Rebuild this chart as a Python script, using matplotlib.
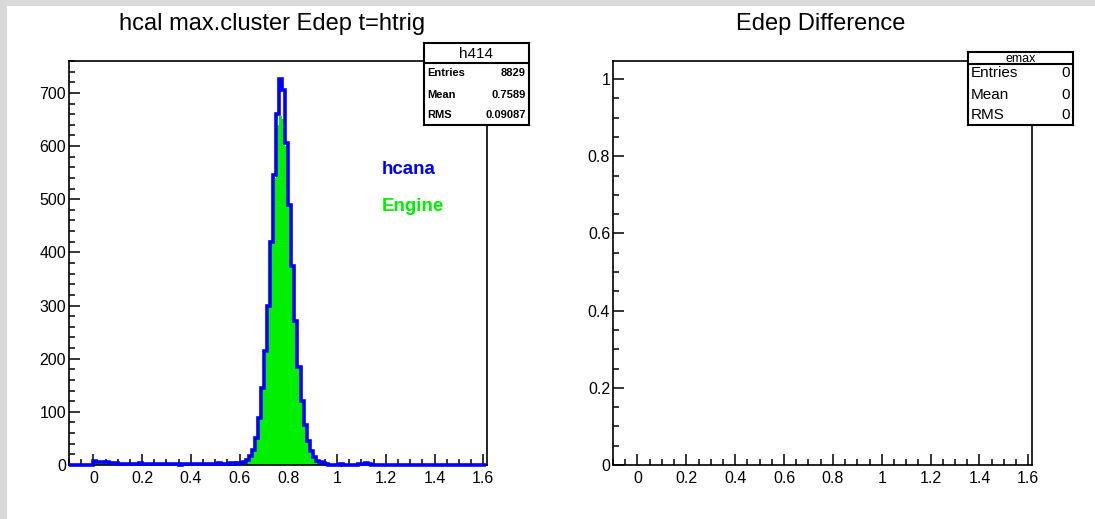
import matplotlib
matplotlib.use("Agg")
import numpy as np
import matplotlib.pyplot as plt
from matplotlib.ticker import MultipleLocator, FuncFormatter
from matplotlib.patches import Rectangle

plt.rcParams['font.family'] = ['Liberation Sans', 'DejaVu Sans']

# histogram binning
bin_start = -0.1
bin_width = 0.0125
n_bins = 137

# hcana counts per bin, 8 bins (0.1) per row
hcana_counts = [
    0, 0, 0, 0, 0, 0, 0, 0,            # -0.1 .. 0.0
    8, 5, 5, 6, 5, 4, 3, 3,            # 0.0 .. 0.1
    2, 1, 2, 1, 1, 2, 1, 3,            # 0.1 .. 0.2
    2, 1, 1, 1, 2, 1, 1, 2,            # 0.2 .. 0.3
    1, 2, 1, 1, 0, 1, 2, 1,            # 0.3 .. 0.4
    1, 1, 2, 1, 1, 2, 1, 2,            # 0.4 .. 0.5
    2, 3, 2, 1, 2, 3, 2, 3,            # 0.5 .. 0.6
    4, 6, 10, 17, 28, 50, 88, 145,     # 0.6 .. 0.7
    215, 300, 420, 545, 660, 727, 706, 605,  # 0.7 .. 0.8
    490, 375, 270, 185, 120, 75, 45, 26,     # 0.8 .. 0.9
    15, 8, 5, 3, 1, 0, 0, 0,           # 0.9 .. 1.0
    0, 1, 0, 0, 0, 0, 0, 1,            # 1.0 .. 1.1
    2, 3, 1, 0, 0, 0, 0, 0,            # 1.1 .. 1.2
    0, 0, 0, 0, 0, 0, 0, 0,            # 1.2 .. 1.3
    0, 0, 0, 0, 0, 0, 0, 0,            # 1.3 .. 1.4
    0, 0, 0, 0, 0, 0, 0, 0,            # 1.4 .. 1.5
    0, 0, 0, 0, 0, 0, 0, 0,            # 1.5 .. 1.6
    0,
]

# engine counts: same shape, lower at the peak
engine_counts = list(hcana_counts)
engine_counts[67] = 540
engine_counts[68] = 640
engine_counts[69] = 656
engine_counts[70] = 650
engine_counts[71] = 600

edges = bin_start + bin_width * np.arange(n_bins + 1)

stats_left = [("Entries", "8829"), ("Mean", "0.7589"), ("RMS", "0.09087")]
stats_right = [("Entries", "0"), ("Mean", "0"), ("RMS", "0")]

W, H = 1095, 519
fig = plt.figure(figsize=(W / 100, H / 100), dpi=100)
fig.patch.set_facecolor("white")

# grey canvas border (left and top)
fig.patches.append(Rectangle((0, 0), 7 / W, 1, transform=fig.transFigure,
                             facecolor="#d9d9d9", edgecolor="none", zorder=0))
fig.patches.append(Rectangle((0, 1 - 6 / H), 1, 6 / H, transform=fig.transFigure,
                             facecolor="#d9d9d9", edgecolor="none", zorder=0))


def px_axes(x0, x1, y0, y1):
    return fig.add_axes([x0 / W, 1 - y1 / H, (x1 - x0) / W, (y1 - y0) / H])


def style_axes(ax):
    for s in ax.spines.values():
        s.set_linewidth(1.2)
    ax.tick_params(which="both", direction="in", top=False, right=False,
                   width=1.1, labelsize=11.5, pad=2)
    ax.tick_params(which="major", length=8)
    ax.tick_params(which="minor", length=4.3)
    ax.xaxis.set_major_locator(MultipleLocator(0.2))
    ax.xaxis.set_minor_locator(MultipleLocator(0.05))
    ax.xaxis.set_major_formatter(FuncFormatter(lambda v, p: "%g" % round(v, 3)))
    ax.tick_params(axis="x", pad=4)


def stat_box(x0, x1, y0, ydiv, y1, name, rows, name_size, row_size, row_weight):
    b = px_axes(x0, x1, y0, y1)
    b.set_xlim(0, 1)
    b.set_ylim(y1, y0)
    b.set_xticks([])
    b.set_yticks([])
    for s in b.spines.values():
        s.set_linewidth(1.5)
    b.axhline(ydiv, color="black", lw=1.5)
    b.text(0.5, (y0 + ydiv) / 2 + 0.5, name, ha="center", va="center", fontsize=name_size)
    row_y = [73, 95, 115]
    for (lab, val), yy in zip(rows, row_y):
        b.text(0.03, yy, lab, ha="left", va="center", fontsize=row_size, fontweight=row_weight)
        b.text(0.97, yy, val, ha="right", va="center", fontsize=row_size, fontweight=row_weight)
    b.set_zorder(5)
    return b


# left panel
ax1 = px_axes(69, 487, 61, 465)
ax1.stairs(engine_counts, edges, fill=True, color="#00f000", zorder=2)
ax1.stairs(hcana_counts, edges, color="#0000ff", linewidth=2.6, zorder=3, clip_on=False)
ax1.set_xlim(-0.1, 1.615)
ax1.set_ylim(0, 760)
style_axes(ax1)
ax1.yaxis.set_major_locator(MultipleLocator(100))
ax1.yaxis.set_minor_locator(MultipleLocator(20))
ax1.text(0.749, 0.732, "hcana", transform=ax1.transAxes, color="#0000ff",
         fontsize=13.5, fontweight="bold", ha="left", va="center")
ax1.text(0.749, 0.640, "Engine", transform=ax1.transAxes, color="#00f000",
         fontsize=13.5, fontweight="bold", ha="left", va="center")
fig.text(272 / W, 1 - 24 / H, "hcal max.cluster Edep t=htrig", ha="center",
         va="center", fontsize=17)
stat_box(424, 529, 43, 63, 125, "h414", stats_left, 11, 8, "bold")

# right panel
ax2 = px_axes(613, 1032, 61, 465)
ax2.set_xlim(-0.1, 1.615)
ax2.set_ylim(0, 1.047)
style_axes(ax2)
ax2.yaxis.set_major_locator(MultipleLocator(0.2))
ax2.yaxis.set_minor_locator(MultipleLocator(0.05))
ax2.yaxis.set_major_formatter(FuncFormatter(lambda v, p: "%g" % round(v, 3)))
fig.text(821 / W, 1 - 24 / H, "Edep Difference", ha="center", va="center", fontsize=17)
stat_box(968, 1073, 52, 64, 125, "emax", stats_right, 9, 11, "normal")

fig.savefig("out.png", dpi=100)
